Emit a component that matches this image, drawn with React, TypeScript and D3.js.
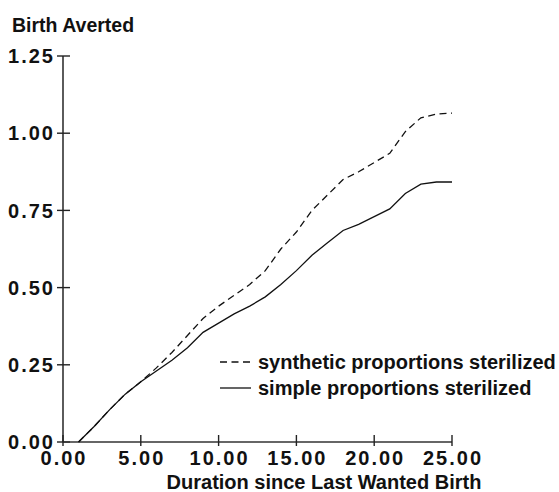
import React from "react";
import * as d3 from "d3";

const durations = [1, 2, 3, 4, 5, 6, 7, 8, 9, 10, 11, 12, 13, 14, 15, 16, 17, 18, 19, 20, 21, 22, 23, 24, 25];
const simple = [0, 0.05, 0.105, 0.155, 0.195, 0.23, 0.265, 0.305, 0.355, 0.385, 0.415, 0.44, 0.47, 0.51, 0.555, 0.605, 0.645, 0.685, 0.705, 0.73, 0.755, 0.805, 0.835, 0.842, 0.842];
const synthetic = [0, 0.05, 0.105, 0.155, 0.195, 0.24, 0.29, 0.345, 0.4, 0.44, 0.475, 0.51, 0.555, 0.625, 0.68, 0.75, 0.8, 0.85, 0.875, 0.905, 0.935, 1.005, 1.05, 1.062, 1.065];
const xTicks = [0, 5, 10, 15, 20, 25];
const yTicks = [0, 0.25, 0.5, 0.75, 1.0, 1.25];
const legendLabels = ["synthetic proportions sterilized", "simple proportions sterilized"];

const W = 559;
const H = 492;
const FONT = "'Liberation Sans', Arial, Helvetica, sans-serif";
const INK = "#111";

export default function App() {
  const x = d3.scaleLinear().domain([0, 25]).range([63, 452]);
  const y = d3.scaleLinear().domain([0, 1.25]).range([442, 56]);
  const line = d3
    .line<number>()
    .x((_, i) => x(durations[i]))
    .y((d) => y(d));

  return (
    <svg
      width={W}
      height={H}
      style={{ position: "absolute", left: 0, top: 0, background: "#fff" }}
      fontFamily={FONT}
      fontWeight="bold"
    >
      <rect width={W} height={H} fill="#fff" />
      <text x={12} y={32} fontSize={19.5} fill={INK}>
        Birth Averted
      </text>

      {/* y axis */}
      <line x1={x(0)} x2={x(0)} y1={y(1.25)} y2={y(0)} stroke="#333" strokeWidth={1.6} />
      {yTicks.map((t) => (
        <g key={"y" + t}>
          <line x1={x(0) - 6} x2={x(0) + 7} y1={y(t)} y2={y(t)} stroke="#222" strokeWidth={1.4} />
          <text
            x={55}
            y={y(t)}
            dy="0.36em"
            textAnchor="end"
            fontSize={20}
            letterSpacing={2}
            fill={INK}
          >
            {t.toFixed(2)}
          </text>
        </g>
      ))}

      {/* x axis */}
      <line x1={x(0)} x2={x(25)} y1={y(0)} y2={y(0)} stroke="#333" strokeWidth={1.6} />
      {xTicks.map((t) => (
        <g key={"x" + t}>
          <line x1={x(t)} x2={x(t)} y1={y(0) - 7} y2={y(0) + 4} stroke="#222" strokeWidth={1.4} />
          <text x={x(t) + 1} y={465} textAnchor="middle" fontSize={20} letterSpacing={2} fill={INK}>
            {t.toFixed(2)}
          </text>
        </g>
      ))}
      <text x={324} y={489} textAnchor="middle" fontSize={20} fill={INK}>
        Duration since Last Wanted Birth
      </text>

      {/* series */}
      <path d={line(synthetic) || ""} fill="none" stroke={INK} strokeWidth={1.3} strokeDasharray="7,4.5" />
      <path d={line(simple) || ""} fill="none" stroke={INK} strokeWidth={1.3} />

      {/* legend */}
      <line x1={220} x2={251} y1={362} y2={362} stroke={INK} strokeWidth={1.3} strokeDasharray="7,4.5" />
      <text x={258} y={369} fontSize={20} fill={INK}>
        {legendLabels[0]}
      </text>
      <line x1={220} x2={251} y1={388} y2={388} stroke={INK} strokeWidth={1.3} />
      <text x={258} y={395} fontSize={20} fill={INK}>
        {legendLabels[1]}
      </text>
    </svg>
  );
}
